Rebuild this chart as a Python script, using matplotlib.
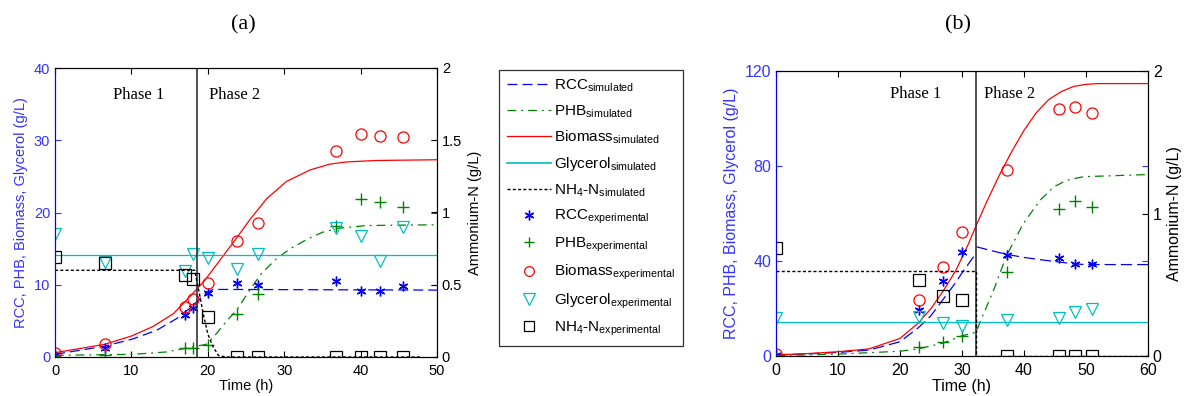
import numpy as np
import matplotlib
matplotlib.use("Agg")
import matplotlib.pyplot as plt
from matplotlib.lines import Line2D

plt.rcParams['font.family'] = ['Liberation Sans', 'DejaVu Sans']
plt.rcParams['mathtext.fontset'] = 'custom'
plt.rcParams['mathtext.rm'] = 'Liberation Sans'
plt.rcParams['mathtext.it'] = 'Liberation Sans'

# ---------------- panel (a) data ----------------
a_phase = 18.6
a_bio_t = [0, 6.5, 10, 12.8, 15.5, 17.6, 19.6, 21.8, 23.65, 25.5, 27.7, 30.3, 33.4, 36, 38.2, 42, 50]
a_bio_v = [0.6, 1.75, 2.9, 4.2, 6.0, 8.3, 10.6, 13.7, 16.3, 19.0, 21.9, 24.3, 25.9, 26.7, 27.0, 27.2, 27.3]
a_rcc_t = [0, 6.5, 10.2, 13.3, 15.9, 17.6, 19, 19.8, 20.7, 22.4, 50]
a_rcc_v = [0.37, 1.5, 2.5, 3.7, 5.3, 6.7, 8.1, 8.9, 9.35, 9.35, 9.26]
a_phb_t = [0, 10.2, 14.6, 16.8, 18.5, 19.8, 21.1, 22.4, 23.8, 25.5, 27.05, 29, 30.8, 33.2, 35.1, 37, 40.8, 50]
a_phb_v = [0.23, 0.37, 0.7, 1.15, 1.5, 1.75, 3.2, 4.9, 6.5, 9.3, 11.6, 13.6, 15.0, 16.4, 17.3, 17.8, 18.2, 18.3]
a_gly_t = [0, 50]
a_gly_v = [14.1, 14.1]
a_nh4_t = [0, 18.3, 18.5, 18.9, 19.4, 20.0, 20.7, 21.4, 22.4, 48]
a_nh4_v = [0.60, 0.60, 0.54, 0.44, 0.30, 0.16, 0.07, 0.01, 0.0, 0.0]

a_exp_t = [0, 6.5, 17, 18, 20, 23.8, 26.6, 36.8, 40, 42.5, 45.5]
a_rcc_e = [0.3, 1.3, 5.8, 6.8, 8.8, 10.2, 10.0, 10.5, 9.2, 9.2, 9.8]
a_phb_e = [0.2, 0.3, 1.2, 1.3, 1.7, 5.9, 8.7, 18.2, 21.8, 21.5, 20.8]
a_bio_e = [0.5, 1.8, 6.9, 8.0, 10.3, 16.1, 18.5, 28.5, 30.8, 30.6, 30.5]
a_gly_e = [17.0, 13.2, 11.9, 14.3, 13.7, 12.2, 14.3, 17.8, 16.8, 13.3, 18.0]
a_nh4_e = [0.69, 0.65, 0.565, 0.54, 0.275, 0.0, 0.0, 0.0, 0.0, 0.0, 0.0]

# ---------------- panel (b) data ----------------
b_phase = 32.3
b_bio_t = [0, 5, 10, 15, 20, 23, 25, 27, 29, 30, 31, 32.3, 34, 36, 38, 40, 42, 44, 46, 48, 50, 52, 60]
b_bio_v = [0.5, 1.0, 1.8, 3.0, 7.4, 14, 20, 27.5, 36, 41.5, 47, 55, 65, 76, 86, 95, 102.5, 108, 111.3, 113.5, 114.4, 114.7, 114.7]
b_rcc_t1 = [0, 10, 15, 20, 23, 25, 27, 29, 30, 32.2]
b_rcc_v1 = [0.3, 1.5, 2.5, 6, 12, 17, 24, 31, 35, 43]
b_rcc_t2 = [32.3, 35, 37.2, 40, 42.5, 45, 48, 50, 60]
b_rcc_v2 = [46, 44.2, 42.8, 41.5, 40.6, 39.8, 38.8, 38.5, 38.5]
b_phb_t = [0, 10, 20, 23, 27, 30, 32.3, 32.8, 35.1, 37.2, 39.9, 42.6, 44.8, 46.9, 49.6, 60]
b_phb_v = [0.2, 0.8, 2.0, 3.0, 5.5, 8.5, 10, 13.6, 27.7, 42.4, 55.8, 65.6, 71.2, 74.0, 75.5, 76.4]
b_gly_t = [0, 60]
b_gly_v = [14.3, 14.3]
b_nh4_t = [0, 32.3, 32.3, 60]
b_nh4_v = [0.60, 0.60, 0.0, 0.0]

b_exp_t = [0, 23.1, 27, 30, 37.2, 45.6, 48.2, 51]
b_rcc_e = [0.3, 19.3, 31.5, 43.8, 42.6, 41.4, 38.9, 38.9]
b_phb_e = [0.3, 3.8, 5.9, 8.3, 35.4, 62.1, 65.2, 62.8]
b_bio_e = [1.0, 23.7, 37.5, 52.3, 78.3, 103.8, 105.0, 102.4]
b_gly_e = [16.0, 16.4, 14.0, 12.5, 15.3, 16.2, 18.5, 20.0]
b_nh4_e = [0.76, 0.536, 0.42, 0.39, 0.0, 0.0, 0.0, 0.0]

# ---------------- styles ----------------
C_RCC = '#0000ff'
C_PHB = '#008000'
C_BIO = '#ff0000'
C_GLY = '#00bfbf'
C_NH4 = 'black'
AX_BLUE = '#3333ff'
ast = (6, 2, 0)
ms = 7
serif = ['Liberation Serif', 'DejaVu Serif']

fig = plt.figure(figsize=(11.85, 3.96), dpi=100)


def draw_panel(rect, xmax, ymax, yticks, rticks, phase, sims, exps, nh4_sim, nh4_exp,
               ph_y, ph1_x, ph2_x, fs):
    ax = fig.add_axes(rect)
    ax2 = ax.twinx()
    for (t, v, c, ls, dash) in sims:
        ln, = ax.plot(t, v, color=c, lw=0.9, ls=ls)
        if dash is not None:
            ln.set_dashes(dash)
    t_e, rcc, phb, bio, gly = exps
    ax.plot(t_e, rcc, ls='none', marker=ast, color=C_RCC, ms=ms, mew=1.0)
    ax.plot(t_e, phb, ls='none', marker='+', color=C_PHB, ms=ms + 1, mew=1.0)
    ax.plot(t_e, bio, ls='none', marker='o', mfc='none', mec=C_BIO, ms=ms + 1, mew=0.9)
    ax.plot(t_e, gly, ls='none', marker='v', mfc='none', mec=C_GLY, ms=ms + 2, mew=0.9)
    ax.axvline(phase, color='0.2', lw=1.2)
    ln, = ax2.plot(nh4_sim[0], nh4_sim[1], color=C_NH4, lw=1.0)
    ln.set_dashes((2.2, 1.6))
    ax2.plot(t_e, nh4_exp, ls='none', marker='s', mfc='none', mec=C_NH4, ms=ms + 1, mew=0.9)

    ax.set_xlim(0, xmax)
    ax.set_ylim(0, ymax)
    ax2.set_ylim(0, 2)
    ax.set_xticks(np.arange(0, xmax + 1, 10))
    ax.set_yticks(yticks)
    ax2.set_yticks(rticks)
    ax2.set_yticklabels([('%g' % r) for r in rticks])
    ax.tick_params(axis='x', direction='in', top=True, labelsize=fs, length=4, pad=5)
    ax.tick_params(axis='y', direction='in', right=True, labelsize=fs, length=4,
                   colors=AX_BLUE, labelcolor=AX_BLUE)
    ax2.tick_params(axis='y', direction='in', labelsize=fs, length=4)
    for a in (ax, ax2):
        for s in a.spines.values():
            s.set_linewidth(0.8)
        a.spines['left'].set_color(C_RCC)
    ax.set_xlabel('Time (h)', fontsize=fs, labelpad=1)
    ax.set_ylabel('RCC, PHB, Biomass, Glycerol (g/L)', fontsize=fs, color=AX_BLUE, labelpad=4)
    ax2.set_ylabel('Ammonium-N (g/L)', fontsize=fs, labelpad=4)
    ax.text(ph1_x, ph_y, 'Phase 1', family=serif, fontsize=12, va='center')
    ax.text(ph2_x, ph_y, 'Phase 2', family=serif, fontsize=12, va='center')
    return ax


draw_panel([55 / 1185, 39 / 396, 382 / 1185, 289 / 396], 50, 40, [0, 10, 20, 30, 40],
           [0, 0.5, 1, 1.5, 2], a_phase,
           [(a_rcc_t, a_rcc_v, C_RCC, '--', (8, 4)),
            (a_phb_t, a_phb_v, C_PHB, '-.', (7, 4, 1.5, 4)),
            (a_bio_t, a_bio_v, C_BIO, '-', None),
            (a_gly_t, a_gly_v, C_GLY, '-', None)],
           (a_exp_t, a_rcc_e, a_phb_e, a_bio_e, a_gly_e),
           (a_nh4_t, a_nh4_v), a_nh4_e, 36.3, 7.6, 20.2, 10.5)

draw_panel([776 / 1185, 40 / 396, 372 / 1185, 285 / 396], 60, 120, [0, 40, 80, 120],
           [0, 1, 2], b_phase,
           [(b_rcc_t1, b_rcc_v1, C_RCC, '--', (9, 4)),
            (b_rcc_t2, b_rcc_v2, C_RCC, '--', (9, 4)),
            (b_phb_t, b_phb_v, C_PHB, '-.', (7, 4, 1.5, 4)),
            (b_bio_t, b_bio_v, C_BIO, '-', None),
            (b_gly_t, b_gly_v, C_GLY, '-', None)],
           (b_exp_t, b_rcc_e, b_phb_e, b_bio_e, b_gly_e),
           (b_nh4_t, b_nh4_v), b_nh4_e, 110.5, 18.4, 33.5, 11.5)

fig.text(243 / 1185, 1 - 25 / 396, '(a)', family=serif, fontsize=16, ha='center', va='center')
fig.text(958 / 1185, 1 - 25 / 396, '(b)', family=serif, fontsize=16, ha='center', va='center')

# legend
handles = [
    Line2D([], [], color=C_RCC, lw=0.9, dashes=(8, 4)),
    Line2D([], [], color=C_PHB, lw=0.9, dashes=(7, 4, 1.5, 4)),
    Line2D([], [], color=C_BIO, lw=0.9),
    Line2D([], [], color=C_GLY, lw=1.2),
    Line2D([], [], color=C_NH4, lw=1.0, dashes=(2.2, 1.6)),
    Line2D([], [], ls='none', marker=ast, color=C_RCC, ms=ms, mew=1.0),
    Line2D([], [], ls='none', marker='+', color=C_PHB, ms=ms, mew=1.0),
    Line2D([], [], ls='none', marker='o', mfc='none', mec=C_BIO, ms=ms, mew=0.9),
    Line2D([], [], ls='none', marker='v', mfc='none', mec=C_GLY, ms=ms + 1, mew=0.9),
    Line2D([], [], ls='none', marker='s', mfc='none', mec=C_NH4, ms=ms, mew=0.9),
]
labels = [
    r'RCC$_{\mathrm{simulated}}$',
    r'PHB$_{\mathrm{simulated}}$',
    r'Biomass$_{\mathrm{simulated}}$',
    r'Glycerol$_{\mathrm{simulated}}$',
    r'NH$_{4}$-N$_{\mathrm{simulated}}$',
    r'RCC$_{\mathrm{experimental}}$',
    r'PHB$_{\mathrm{experimental}}$',
    r'Biomass$_{\mathrm{experimental}}$',
    r'Glycerol$_{\mathrm{experimental}}$',
    r'NH$_{4}$-N$_{\mathrm{experimental}}$',
]
leg = fig.legend(handles, labels, loc='upper left', bbox_to_anchor=(499 / 1185, 1 - 70 / 396),
                 fontsize=11, frameon=True, fancybox=False, edgecolor='black',
                 handlelength=2.9, labelspacing=0.6, borderpad=0.5, handletextpad=0.2,
                 borderaxespad=0)
leg.get_frame().set_linewidth(0.9)

fig.savefig('out.png', dpi=100)
